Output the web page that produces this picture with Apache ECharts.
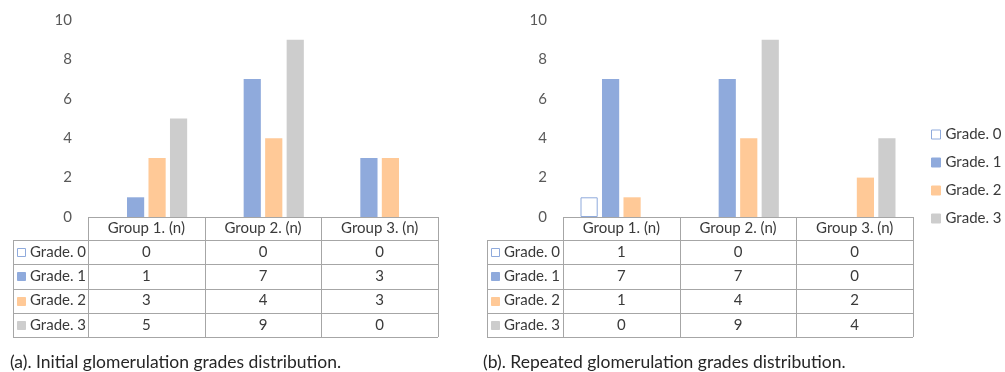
<!DOCTYPE html>
<html>
<head>
<meta charset="utf-8">
<script src="https://cdn.jsdelivr.net/npm/echarts@6/dist/echarts.min.js"></script>
<style>
  html, body { margin: 0; padding: 0; background: #fff; }
  #chart { width: 1005px; height: 372px; }
</style>
</head>
<body>
<div id="chart"></div>
<script>
// data
var categories = ['Group 1. (n)', 'Group 2. (n)', 'Group 3. (n)']
var grades = ['Grade. 0', 'Grade. 1', 'Grade. 2', 'Grade. 3']
var initialCounts = [
  [0, 0, 0],
  [1, 7, 3],
  [3, 4, 3],
  [5, 9, 0]
]
var repeatedCounts = [
  [1, 0, 0],
  [7, 7, 0],
  [1, 4, 2],
  [0, 9, 4]
]
var captions = [
  '(a). Initial glomerulation grades distribution.',
  '(b). Repeated glomerulation grades distribution.'
]
var yMax = 10
var yStep = 2

var colorList = ['#ffffff', '#8faadc', '#ffc997', '#cdcdcd']
var borderBlue = '#8faadc'
var lineColor = '#a6a6a6'
var textColor = '#3a3a3a'
var font = 'Lato, "Liberation Sans", sans-serif'

// layout of the two panels
var panels = [
  { left: 88, tableLeft: 13, captionX: 10 },
  { left: 563, tableLeft: 487, captionX: 483 }
]
var gridTop = 20
var gridHeight = 197
var gridWidth = 350
var headerH = 23
var rowH = 24.25

var chart = echarts.init(document.getElementById('chart'))

function makeSeries(counts, idx) {
  return grades.map(function(name, g) {
    return {
      name: name,
      type: 'bar',
      xAxisIndex: idx,
      yAxisIndex: idx,
      barGap: '25%',
      barCategoryGap: '30%',
      itemStyle: {
        color: colorList[g],
        borderColor: g === 0 ? borderBlue : colorList[g],
        borderWidth: g === 0 ? 1 : 0
      },
      data: counts[g].map(function(v) {
        return v === 0 ? { value: v, itemStyle: { borderWidth: 0 } } : v
      })
    }
  })
}

chart.setOption({
  animation: false,
  textStyle: { fontFamily: font },
  legend: {
    data: grades,
    orient: 'vertical',
    left: 931,
    top: 127,
    padding: 0,
    icon: 'rect',
    itemWidth: 9,
    itemHeight: 9,
    itemGap: 13,
    itemStyle: { borderWidth: 1 },
    textStyle: { color: textColor, fontSize: 15, fontFamily: font }
  },
  grid: panels.map(function(p) {
    return { left: p.left, top: gridTop, width: gridWidth, height: gridHeight }
  }),
  xAxis: panels.map(function(p, i) {
    return {
      type: 'category',
      gridIndex: i,
      data: categories,
      axisLine: { show: false },
      axisTick: { show: false },
      axisLabel: { color: textColor, fontSize: 15, margin: 4, fontFamily: font }
    }
  }),
  yAxis: panels.map(function(p, i) {
    return {
      type: 'value',
      gridIndex: i,
      min: 0,
      max: yMax,
      interval: yStep,
      axisLine: { show: false },
      axisTick: { show: false },
      splitLine: { show: false },
      axisLabel: { color: '#595959', fontSize: 15, margin: 16, fontFamily: font }
    }
  }),
  series: makeSeries(initialCounts, 0).concat(makeSeries(repeatedCounts, 1))
})

// data table under each chart, columns taken from the category axis
function hLine(x1, x2, y) {
  y = Math.round(y) + 0.5
  return { type: 'line', shape: { x1: x1, y1: y, x2: x2, y2: y }, style: { stroke: lineColor, lineWidth: 1 }, silent: true }
}
function vLine(x, y1, y2) {
  x = Math.round(x) + 0.5
  return { type: 'line', shape: { x1: x, y1: y1, x2: x, y2: y2 }, style: { stroke: lineColor, lineWidth: 1 }, silent: true }
}

var graphics = []
var allCounts = [initialCounts, repeatedCounts]
panels.forEach(function(p, i) {
  var right = p.left + gridWidth
  var top = gridTop + gridHeight
  var bodyTop = top + headerH
  var bottom = bodyTop + rowH * grades.length
  graphics.push(hLine(p.left, right, top))
  for (var r = 0; r <= grades.length; r++) {
    graphics.push(hLine(p.tableLeft, right, bodyTop + r * rowH))
  }
  graphics.push(vLine(p.tableLeft, bodyTop, bottom))
  for (var c = 0; c <= categories.length; c++) {
    graphics.push(vLine(p.left + c * gridWidth / categories.length, top, bottom))
  }
  grades.forEach(function(name, g) {
    var cy = bodyTop + (g + 0.5) * rowH
    graphics.push({
      type: 'rect',
      shape: { x: p.tableLeft + 4.5, y: Math.round(cy - 4) + 0.5, width: 8, height: 8 },
      style: { fill: colorList[g], stroke: g === 0 ? borderBlue : colorList[g], lineWidth: 1 },
      silent: true
    })
    graphics.push({
      type: 'text',
      x: p.tableLeft + 17,
      y: cy,
      style: { text: name, fill: textColor, font: '15px ' + font, verticalAlign: 'middle', align: 'left' },
      silent: true
    })
    categories.forEach(function(cat, j) {
      var cx = chart.convertToPixel({ xAxisIndex: i }, cat)
      graphics.push({
        type: 'text',
        x: cx,
        y: cy,
        style: { text: String(allCounts[i][g][j]), fill: textColor, font: '15px ' + font, verticalAlign: 'middle', align: 'center' },
        silent: true
      })
    })
  })
  graphics.push({
    type: 'text',
    x: p.captionX,
    y: 362,
    style: { text: captions[i], fill: '#262626', font: '17.5px ' + font, verticalAlign: 'middle', align: 'left' },
    silent: true
  })
})

chart.setOption({ graphic: graphics })
</script>
</body>
</html>
